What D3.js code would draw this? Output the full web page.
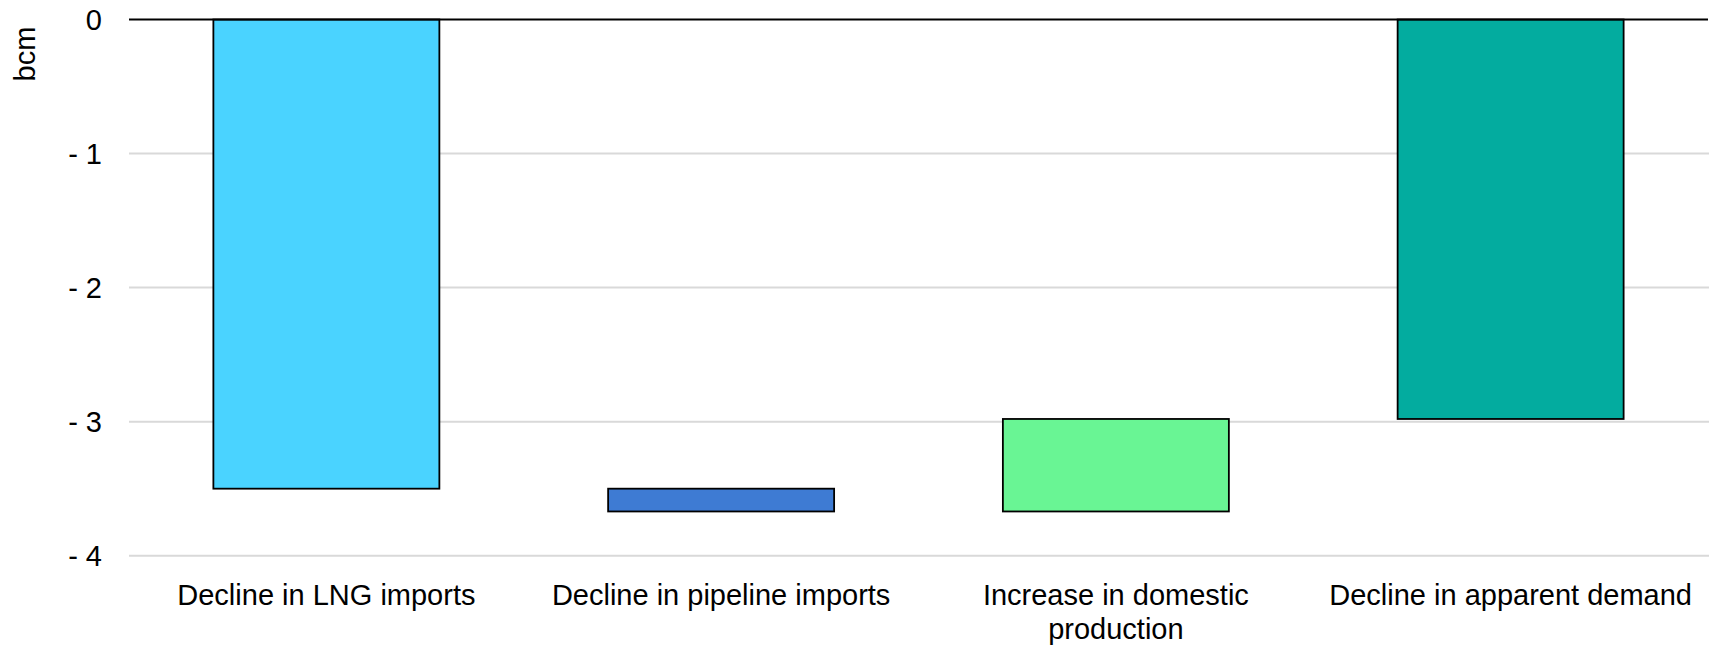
<!DOCTYPE html>
<html>
<head>
<meta charset="utf-8">
<script src="https://cdn.jsdelivr.net/npm/d3@7"></script>
<style>
  html, body { margin: 0; padding: 0; background: #fff; }
  svg { display: block; font-family: "Liberation Sans", Arial, sans-serif; }
</style>
</head>
<body>
<svg id="chart" width="1713" height="645"></svg>
<script>
// Change in gas supply/demand balance, bcm
const categories = [
  ["Decline in LNG imports"],
  ["Decline in pipeline imports"],
  ["Increase in domestic", "production"],
  ["Decline in apparent demand"]
];
const changes = [-3.50, -0.17, 0.69];       // step contributions
const colors = ["#4ad3ff", "#3e7bd3", "#69f594", "#03ac9f"];
const yTicks = [0, -1, -2, -3, -4];
const yLabel = "bcm";

// Build waterfall segments: running steps, then the resulting total from zero
const segments = [];
let running = 0;
changes.forEach((c, i) => {
  segments.push({ i, from: running, to: running + c });
  running += c;
});
segments.push({ i: changes.length, from: 0, to: running });

const svg = d3.select("#chart");
const margin = { left: 129, top: 19.5 };
const fontSize = 29;

const x = d3.scaleBand()
  .domain(d3.range(categories.length))
  .range([margin.left, 1708])
  .paddingInner(0.4275)
  .paddingOuter(0.21375);

const y = d3.scaleLinear()
  .domain([0, -4])
  .range([margin.top, 555.7]);

// Horizontal gridlines
svg.append("g")
  .selectAll("line")
  .data(yTicks.filter(d => d !== 0))
  .join("line")
  .attr("x1", margin.left).attr("x2", 1709)
  .attr("y1", d => y(d)).attr("y2", d => y(d))
  .attr("stroke", "#d9d9d9").attr("stroke-width", 2);

// Tick labels
svg.append("g")
  .selectAll("text")
  .data(yTicks)
  .join("text")
  .attr("x", 102)
  .attr("y", d => y(d))
  .attr("dy", "0.36em")
  .attr("text-anchor", "end")
  .attr("font-size", fontSize)
  .attr("fill", "#000")
  .text(d => d === 0 ? "0" : "- " + Math.abs(d));

// Axis title
svg.append("text")
  .attr("transform", "translate(35,54) rotate(-90)")
  .attr("text-anchor", "middle")
  .attr("font-size", fontSize)
  .text(yLabel);

// Bars
svg.append("g")
  .selectAll("rect")
  .data(segments)
  .join("rect")
  .attr("x", d => x(d.i))
  .attr("width", x.bandwidth())
  .attr("y", d => y(Math.max(d.from, d.to)))
  .attr("height", d => Math.abs(y(d.to) - y(d.from)))
  .attr("fill", d => colors[d.i])
  .attr("stroke", "#000")
  .attr("stroke-width", 1.8);

// Zero line
svg.append("line")
  .attr("x1", margin.left).attr("x2", 1708)
  .attr("y1", y(0)).attr("y2", y(0))
  .attr("stroke", "#000").attr("stroke-width", 2);

// Category labels
const labels = svg.append("g")
  .selectAll("text")
  .data(categories)
  .join("text")
  .attr("x", (d, i) => x(i) + x.bandwidth() / 2)
  .attr("y", 605)
  .attr("text-anchor", "middle")
  .attr("font-size", fontSize)
  .attr("fill", "#000");
labels.selectAll("tspan")
  .data(d => d)
  .join("tspan")
  .attr("x", function () { return d3.select(this.parentNode).attr("x"); })
  .attr("dy", (d, j) => j === 0 ? 0 : 33.5)
  .text(d => d);
</script>
</body>
</html>
